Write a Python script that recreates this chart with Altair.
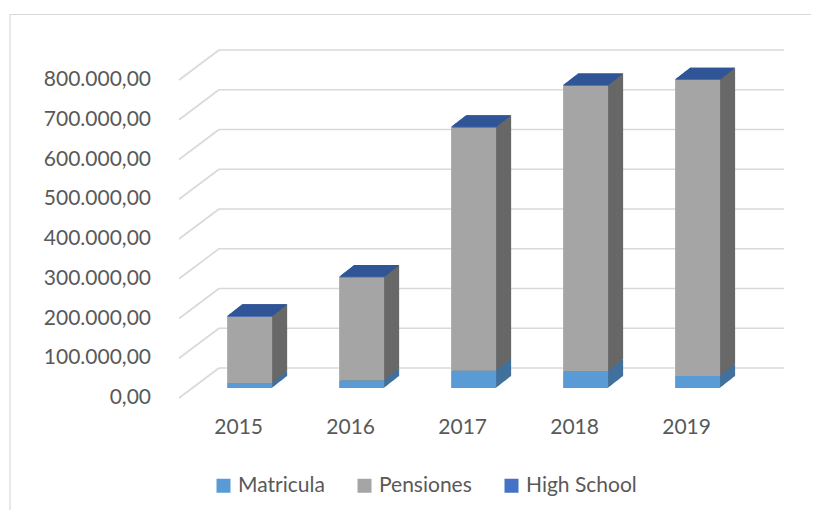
import altair as alt
import pandas as pd

# ---- data ----
years = [2015, 2016, 2017, 2018, 2019]
matricula = [12600, 19000, 43500, 42000, 30000]
pensiones = [166900, 259500, 612000, 718500, 745000]
high_school = [1500, 1500, 1500, 1500, 1500]

series_names = ["Matricula", "Pensiones", "High School"]
front_colors = ["#5B9BD5", "#A5A5A5", "#4472C4"]
side_colors = ["#41719C", "#686868", "#2F528F"]
top_color = "#2F5597"

tick_values = [0, 100000, 200000, 300000, 400000, 500000, 600000, 700000, 800000]
tick_labels = ["0,00", "100.000,00", "200.000,00", "300.000,00", "400.000,00",
               "500.000,00", "600.000,00", "700.000,00", "800.000,00"]

# ---- build tables ----
rows = []
for i, yr in enumerate(years):
    base = 0
    for name, vals, fc, sc in zip(series_names, [matricula, pensiones, high_school],
                                  front_colors, side_colors):
        v = vals[i]
        rows.append({"year": yr, "series": name, "order": series_names.index(name),
                     "y0": base, "y1": base + v, "side": sc})
        base += v
df = pd.DataFrame(rows)
tops = df.groupby("year", as_index=False)["y1"].max()
ticks = pd.DataFrame({"v": tick_values, "label": tick_labels})
yrs = pd.DataFrame({"year": years, "label": [str(y) for y in years]})

W, H = 803, 502
FONT = "Lato"
TXT = "#595959"
GRID = "#D9D9D9"

# scales: front floor of 2015 at x=228.5, step 113.4 px; value 0 at y=390, 318 px per 800k
x_step, x0 = 113.4, 228.5
x_dom = [2015 - x0 / x_step, 2015 + (W - x0) / x_step]
ppu = 318 / 800000
y_dom = [-(H - 390) / ppu, 390 / ppu]

xs = alt.Scale(domain=x_dom, nice=False, zero=False)
ys = alt.Scale(domain=y_dom, nice=False, zero=False)
X = alt.X("year:Q", scale=xs, axis=None)

BAR_W = 45
FX, FY = 11, -10  # front-face offset relative to floor front
DEPTH_X, DEPTH_Y = 15, -11.7

border = alt.Chart(pd.DataFrame({"a": [0]})).mark_rect(
    filled=False, stroke=GRID, strokeWidth=1.2
).encode(x=alt.value(2), x2=alt.value(W + 40), y=alt.value(6.5), y2=alt.value(H + 40))

back_grid = alt.Chart(ticks).mark_rule(
    color=GRID, strokeWidth=1.6, yOffset=-30
).encode(y=alt.Y("v:Q", scale=ys, axis=None), x=alt.value(211), x2=alt.value(776))

side_grid = alt.Chart(ticks).mark_rule(
    color=GRID, strokeWidth=1.6, y2Offset=-30
).encode(y=alt.Y("v:Q", scale=ys, axis=None), y2="v:Q", x=alt.value(171), x2=alt.value(211))

layers = [border, back_grid, side_grid]

# extruded side faces, far to near
for t in range(15, 0, -1):
    dx = FX + t * DEPTH_X / 15
    dy = FY + t * DEPTH_Y / 15
    layers.append(
        alt.Chart(df).mark_bar(size=BAR_W, xOffset=dx, x2Offset=dx, yOffset=dy, y2Offset=dy)
        .encode(x=X, y=alt.Y("y0:Q", scale=ys, axis=None), y2="y1:Q",
                fill=alt.Fill("side:N", scale=None))
    )

# top faces (parallelogram symbol)
r = 30
hw = BAR_W / 2 / r
path = (f"M{-hw},0L{hw},0L{hw + DEPTH_X / r},{DEPTH_Y / r}"
        f"L{-hw + DEPTH_X / r},{DEPTH_Y / r}Z")
top = alt.Chart(tops).mark_point(
    shape=path, filled=True, size=(2 * r) ** 2, opacity=1, color=top_color,
    strokeWidth=0, xOffset=FX, yOffset=FY
).encode(x=X, y=alt.Y("y1:Q", scale=ys, axis=None))
layers.append(top)

front = alt.Chart(df).mark_bar(
    size=BAR_W, xOffset=FX, x2Offset=FX, yOffset=FY, y2Offset=FY
).encode(
    x=X, y=alt.Y("y0:Q", scale=ys, axis=None), y2="y1:Q",
    color=alt.Color("series:N", scale=alt.Scale(domain=series_names, range=front_colors),
                    sort=series_names,
                    legend=alt.Legend(orient="none", legendX=205, legendY=467,
                                      direction="horizontal", title=None,
                                      symbolType="square", symbolSize=196,
                                      symbolStrokeWidth=0, labelFont=FONT,
                                      labelFontSize=21, labelColor=TXT,
                                      columnPadding=29, labelOffset=4)),
    order=alt.Order("order:Q"),
)
layers.append(front)

ylabels = alt.Chart(ticks).mark_text(
    align="right", baseline="middle", font=FONT, fontSize=21, color=TXT
).encode(y=alt.Y("v:Q", scale=ys, axis=None), x=alt.value(143), text="label:N")
layers.append(ylabels)

xlabels = alt.Chart(yrs).mark_text(
    align="center", baseline="middle", font=FONT, fontSize=21, color=TXT
).encode(x=X, y=alt.value(420), text="label:N")
layers.append(xlabels)

chart = alt.layer(*layers).properties(
    width=W, height=H, autosize=alt.AutoSizeParams(type="none"), padding=0
).configure_view(stroke=None)

chart.save("out.html", embed_options={"renderer": "svg", "actions": False})
